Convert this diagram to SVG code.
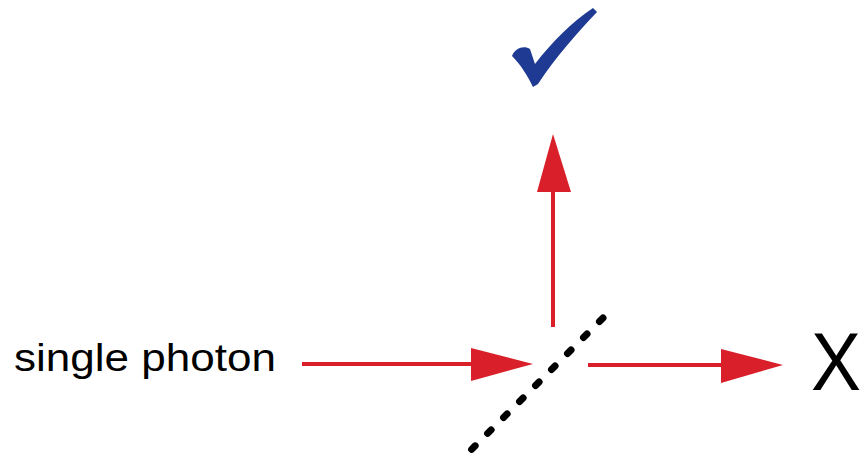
<svg xmlns="http://www.w3.org/2000/svg" width="865" height="453" viewBox="0 0 865 453">
<style>
.ray{stroke:#d9202a;stroke-width:4;fill:none}
.head{fill:#d9202a}
.lbl{font-family:"Liberation Sans",Arial,sans-serif;fill:#000}
</style>
<rect width="865" height="453" fill="#fff"/>
<g id="connectors">
<line class="ray" x1="302" y1="364" x2="474" y2="364"/>
<polygon class="head" points="471,348 533,364 471,381"/>
<line class="ray" x1="588" y1="365" x2="724" y2="365"/>
<polygon class="head" points="721,349 783,365 721,383"/>
<line class="ray" x1="553" y1="327" x2="553" y2="188"/>
<polygon class="head" points="537,192 553,134 571,192"/>
</g>
<g id="splitter">
<line x1="603" y1="318" x2="471" y2="450" stroke="#000" stroke-width="7" stroke-linecap="round" stroke-dasharray="5 17.6"/>
</g>
<g id="source">
<text class="lbl" x="14" y="371" font-size="39" textLength="262" lengthAdjust="spacingAndGlyphs">single photon</text>
</g>
<g id="transmitted">
<text class="lbl" x="811" y="390" font-size="82" textLength="50" lengthAdjust="spacingAndGlyphs">X</text>
</g>
<g id="reflected">
<path d="M512,56 C515,48 524,45 530,49 L535,64 C552,42 572,22 593,8 L597,12 C578,32 555,58 538,84 L533,87 C527,75 521,65 512,56 Z" fill="#1f3a93"/>
</g>
</svg>
